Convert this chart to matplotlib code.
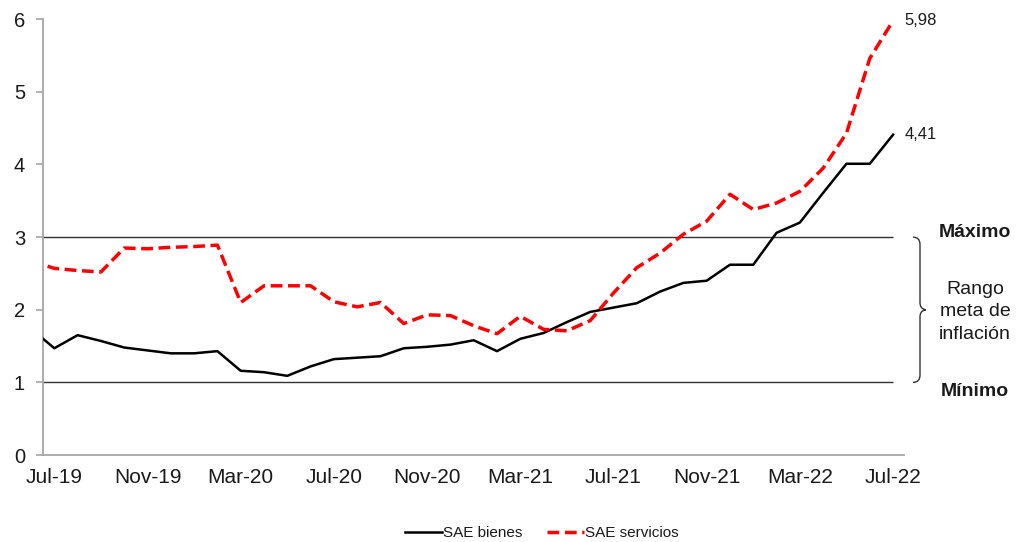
import matplotlib
matplotlib.use('Agg')
import matplotlib.pyplot as plt
from matplotlib.path import Path
from matplotlib.patches import PathPatch
from matplotlib.transforms import blended_transform_factory

plt.rcParams['font.family'] = ['Liberation Sans', 'DejaVu Sans']

# ---- data (monthly, Jun-19 .. Jul-22; first month sits just left of the axis) ----
months = ['Jun-19',
          'Jul-19', 'Aug-19', 'Sep-19', 'Oct-19', 'Nov-19', 'Dec-19',
          'Jan-20', 'Feb-20', 'Mar-20', 'Apr-20', 'May-20', 'Jun-20',
          'Jul-20', 'Aug-20', 'Sep-20', 'Oct-20', 'Nov-20', 'Dec-20',
          'Jan-21', 'Feb-21', 'Mar-21', 'Apr-21', 'May-21', 'Jun-21',
          'Jul-21', 'Aug-21', 'Sep-21', 'Oct-21', 'Nov-21', 'Dec-21',
          'Jan-22', 'Feb-22', 'Mar-22', 'Apr-22', 'May-22', 'Jun-22', 'Jul-22']
bienes = [1.74,
          1.47, 1.65, 1.57, 1.48, 1.44, 1.40,
          1.40, 1.43, 1.16, 1.14, 1.09, 1.22,
          1.32, 1.34, 1.36, 1.47, 1.49, 1.52,
          1.58, 1.43, 1.60, 1.68, 1.83, 1.97,
          2.03, 2.09, 2.25, 2.37, 2.40, 2.62,
          2.62, 3.06, 3.20, 3.61, 4.01, 4.01, 4.41]
servicios = [2.67,
             2.57, 2.54, 2.52, 2.85, 2.84, 2.86,
             2.87, 2.89, 2.10, 2.33, 2.33, 2.33,
             2.11, 2.04, 2.10, 1.81, 1.93, 1.92,
             1.78, 1.67, 1.91, 1.73, 1.71, 1.85,
             2.23, 2.58, 2.78, 3.04, 3.22, 3.59,
             3.38, 3.47, 3.63, 3.95, 4.43, 5.46, 5.98]
meta_max, meta_min = 3, 1
tick_labels = ['Jul-19', 'Nov-19', 'Mar-20', 'Jul-20', 'Nov-20',
               'Mar-21', 'Jul-21', 'Nov-21', 'Mar-22', 'Jul-22']

x = list(range(-1, len(months) - 1))   # Jul-19 -> 0
last = x[-1]

fig = plt.figure(figsize=(10.17, 5.42), dpi=100)
ax = fig.add_axes([0.0423, 0.1605, 0.8466, 0.804])

ax.hlines([meta_max, meta_min], -1, last, color='#333333', lw=1.0, zorder=1)
ax.plot(x, bienes, color='black', lw=1.8, label='SAE bienes', zorder=3)
ax.plot(x, servicios, color='#ff0000', lw=2.5, dashes=(3.4, 1.6),
        label='SAE servicios', zorder=4)

for vals in (servicios, bienes):
    ax.annotate(f'{vals[-1]:.2f}'.replace('.', ','), xy=(last, vals[-1]),
                xytext=(8, 0), textcoords='offset points', va='center',
                ha='left', fontsize=12, color='#1a1a1a', annotation_clip=False)

ax.set_xlim(-0.485, last + 0.47)
ax.set_ylim(0, 6)
ax.set_yticks(range(0, 7))
ax.set_xticks([x[months.index(m)] for m in tick_labels])
ax.set_xticklabels(tick_labels)

for s in ('top', 'right'):
    ax.spines[s].set_visible(False)
for s in ('left', 'bottom'):
    ax.spines[s].set_color('#a6a6a6')
    ax.spines[s].set_linewidth(1.3)
ax.tick_params(axis='y', length=5, width=1.2, color='#a6a6a6', pad=8,
               labelsize=14.5, labelcolor='#1a1a1a')
ax.tick_params(axis='x', length=0, pad=9, labelsize=15, labelcolor='#1a1a1a')

# brace for the target range
tr = blended_transform_factory(fig.transFigure, ax.transData)
x0, x1, x2 = 913 / 1017, 920 / 1017, 926 / 1017
mid = (meta_max + meta_min) / 2
verts = [(x0, meta_max), (x1, meta_max), (x1, meta_max - 0.1),
         (x1, mid + 0.1),
         (x1, mid), (x2, mid), (x2, mid),
         (x2, mid), (x1, mid), (x1, mid - 0.1),
         (x1, meta_min + 0.1),
         (x1, meta_min), (x0, meta_min), (x0, meta_min)]
codes = [Path.MOVETO, Path.CURVE3, Path.CURVE3,
         Path.LINETO,
         Path.CURVE4, Path.CURVE4, Path.CURVE4,
         Path.CURVE4, Path.CURVE4, Path.CURVE4,
         Path.LINETO,
         Path.CURVE3, Path.CURVE3, Path.LINETO]
ax.add_patch(PathPatch(Path(verts, codes), transform=tr, fill=False,
                       edgecolor='#333333', lw=1.0, clip_on=False))

tx = 975 / 1017
ax.text(tx, meta_max + 0.07, 'Máximo', transform=tr, ha='center', va='center',
        fontsize=14, fontweight='bold', color='#1a1a1a')
ax.text(tx, meta_min - 0.12, 'Mínimo', transform=tr, ha='center', va='center',
        fontsize=14, fontweight='bold', color='#1a1a1a')
ax.text(tx, mid - 0.03, 'Rango\nmeta de\ninflación', transform=tr, ha='center',
        va='center', fontsize=14, color='#1a1a1a', linespacing=1.4)

fig.legend(loc='center', bbox_to_anchor=(542 / 1017, 1 - 533 / 542), ncol=2,
           frameon=False, fontsize=11, handlelength=2.4, handletextpad=0.1,
           columnspacing=1.6, labelcolor='#1a1a1a')

fig.savefig('out.png', dpi=100)
